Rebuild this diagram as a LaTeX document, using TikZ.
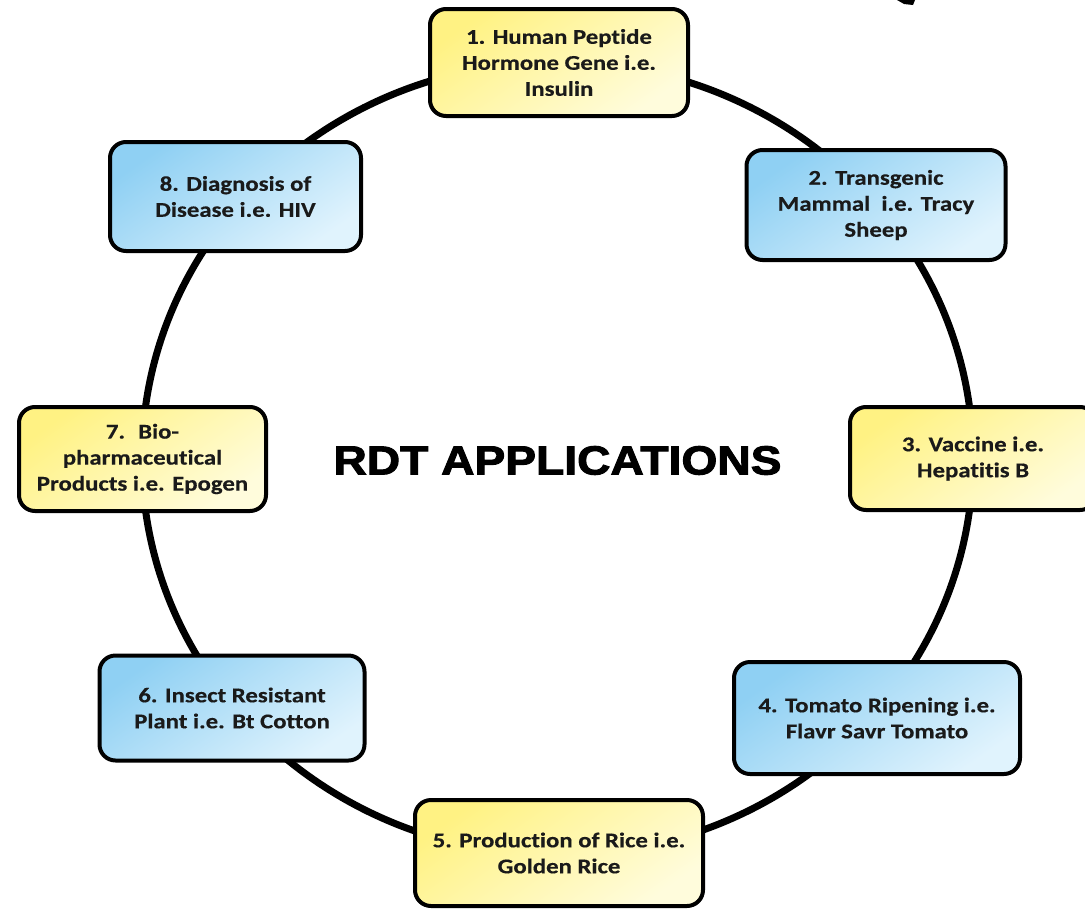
\documentclass[tikz,border=0pt]{standalone}
\usepackage{fontspec}
\setmainfont{Carlito}[FakeStretch=1.18, Ligatures=CommonOff, BoldFeatures={FakeBold=0.4}]
\newfontfamily\titlefont{Liberation Sans}[FakeStretch=1.14, BoldFeatures={FakeBold=2.4}]
\definecolor{yelA}{HTML}{FFF283}
\definecolor{yelB}{HTML}{FFFCDC}
\definecolor{bluA}{HTML}{8FD0F3}
\definecolor{bluB}{HTML}{E0F3FD}
\definecolor{textdark}{HTML}{1A1A1A}
\tikzset{
  appbox/.style={draw=black, line width=4pt, rounded corners=16pt, align=center,
    text=textdark, font=\bfseries\fontsize{21}{26}\selectfont, inner sep=0pt},
  yellowbox/.style={appbox, top color=yelA, bottom color=yelB, shading angle=35},
  bluebox/.style={appbox, top color=bluA, bottom color=bluB, shading angle=35},
  ring/.style={draw=black, line width=7pt},
}
\begin{document}
\begin{tikzpicture}[x=1pt, y=-1pt]
\useasboundingbox (0,0) rectangle (1085,911);
\fill[white] (0,0) rectangle (1085,911);
\coordinate (ringc) at (557.5,458.5);
\draw[ring] (ringc) ellipse [x radius=415.5pt, y radius=396.5pt];
\node[yellowbox, minimum width=258pt, minimum height=107pt] (n1) at (559,62.5)
  {1. Human Peptide\\Hormone Gene i.e.\\Insulin};
\node[bluebox, minimum width=259pt, minimum height=110pt] (n2) at (876,205)
  {2. Transgenic\\Mammal~ i.e. Tracy\\Sheep};
\node[yellowbox, minimum width=246pt, minimum height=103pt] (n3) at (973,458.5)
  {3. Vaccine i.e.\\Hepatitis B};
\node[bluebox, minimum width=286pt, minimum height=112pt] (n4) at (877,718)
  {4. Tomato Ripening i.e.\\Flavr Savr Tomato};
\node[yellowbox, minimum width=288pt, minimum height=106pt] (n5) at (559,853)
  {5. Production of Rice i.e.\\Golden Rice};
\node[bluebox, minimum width=265pt, minimum height=105pt] (n6) at (232,708)
  {6. Insect Resistant\\Plant i.e. Bt Cotton};
\node[yellowbox, minimum width=247pt, minimum height=104pt] (n7) at (142.5,459)
  {7.~ Bio-\\pharmaceutical\\Products i.e. Epogen};
\node[bluebox, minimum width=251pt, minimum height=109pt] (n8) at (235.5,196.5)
  {8. Diagnosis of\\Disease i.e. HIV};
\node[inner sep=0pt, text=black] (title) at (557.5,460.5)
  {\titlefont\bfseries\fontsize{40.5}{40.5}\selectfont RDT APPLICATIONS};
\fill[black] (897,0) -- (915,0) -- (913,5) -- (904,4) -- cycle;
\end{tikzpicture}
\end{document}
